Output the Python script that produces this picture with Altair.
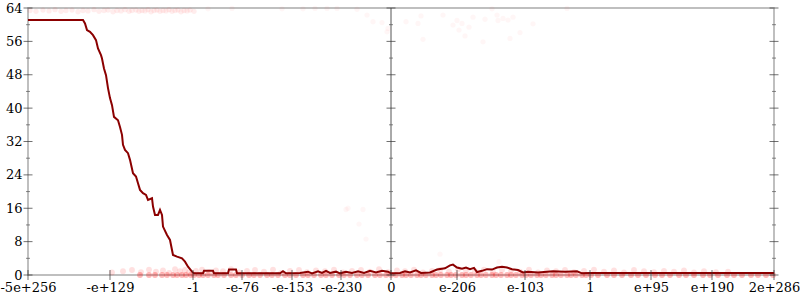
import altair as alt
import pandas as pd

# x axis: positions along the float ordering (0..746) and their labels
tick_vals = [0, 82, 165, 214, 264, 313, 363, 429, 497, 562, 623, 684, 746]
tick_labels = ["-5e+256", "-e+129", "-1", "-e-76", "-e-153", "-e-230", "0",
               "e-206", "e-103", "1", "e+95", "e+190", "2e+286"]
y_major = [0, 8, 16, 24, 32, 40, 48, 56, 64]
y_minor = [4, 12, 20, 28, 36, 44, 52, 60]

# dark red error line
line_x = [0, 55, 57, 59, 62, 65, 68, 70, 73, 74, 76, 78, 80, 82, 84, 86, 90, 92, 94, 95,
          97, 100, 102, 105, 108, 110, 112, 115, 118, 120, 124, 125, 127, 130, 132, 134, 135, 139, 142, 145,
          149, 154, 157, 160, 164, 166, 175, 176, 185, 186, 200, 201, 208, 209, 252, 255, 258, 272, 280, 284,
          290, 294, 298, 302, 308, 312, 318, 324, 330, 336, 342, 348, 354, 360, 363, 372, 377, 382, 388, 393,
          402, 409, 417, 422, 425, 429, 434, 438, 442, 446, 449, 454, 459, 464, 469, 474, 479, 484, 490, 495,
          500, 510, 519, 525, 537, 549, 554, 562, 746]
line_y = [61.1, 61.1, 60.3, 58.7, 58.3, 57.5, 56.3, 54.3, 52.7, 51.9, 49.5, 47.9, 44.8, 42.4, 40.7, 37.9, 37.1, 35.5, 33.6, 31.2,
          30.0, 29.2, 27.6, 24.4, 23.6, 22.0, 20.4, 19.6, 19.2, 18.0, 18.4, 16.4, 14.4, 14.4, 15.6, 14.4, 11.6, 9.6, 8.4, 4.8,
          4.4, 4.0, 3.2, 2.0, 0.8, 0.4, 0.4, 1.0, 1.0, 0.4, 0.4, 1.3, 1.3, 0.4, 0.4, 0.9, 0.4, 0.5, 0.8, 0.4,
          0.9, 0.5, 1.0, 0.5, 0.8, 0.4, 0.8, 0.5, 0.9, 0.5, 1.0, 0.6, 1.0, 0.8, 0.4, 0.5, 0.9, 0.6, 1.1, 0.5,
          0.6, 1.3, 1.6, 2.3, 2.5, 1.8, 1.5, 1.8, 1.4, 1.7, 0.7, 1.0, 1.4, 1.3, 1.8, 2.0, 1.8, 1.4, 1.2, 0.6,
          0.8, 0.6, 0.8, 0.9, 0.8, 0.9, 0.4, 0.5, 0.5]

# faint sample points near the top
top_x = [2, 8, 15, 21, 27, 33, 38, 44, 50, 55, 60, 66, 71, 76, 80, 85, 89, 93, 97, 101,
         104, 108, 111, 114, 117, 120, 123, 126, 129, 132, 135, 138, 141, 144, 147, 150, 153, 156, 159, 162, 166]
top_y = [63.4, 63.2, 63.5, 63.3, 63.6, 63.2, 63.4, 63.5, 63.1, 63.4, 63.3, 63.6, 63.2, 63.4, 63.5, 63.1, 63.4, 63.3, 63.6, 63.2,
         63.4, 63.5, 63.2, 63.4, 63.3, 63.6, 63.1, 63.4, 63.5, 63.2, 63.4, 63.3, 63.6, 63.2, 63.4, 63.5, 63.1, 63.4, 63.3, 63.5, 63.2]

# stray sample points
stray_x = [180, 204, 254, 275, 287, 299, 309, 329, 339, 345, 354, 359, 360, 378, 390, 393, 395, 415, 425, 429,
           431, 434, 437, 441, 445, 455, 457, 464, 469, 470, 475, 485, 480, 492, 505, 482, 539,
           320, 318, 331, 338, 335, 412, 471]
stray_y = [63.8, 63.9, 63.8, 63.8, 63.9, 63.9, 63.9, 63.7, 62.3, 60.7, 60.5, 58.3, 59.1, 60.7, 60.3, 62.1, 56.5, 62.3, 59.9, 61.0,
           58.7, 60.3, 57.3, 59.4, 61.8, 55.9, 61.3, 63.8, 62.3, 61.0, 61.5, 61.8, 61.1, 58.1, 60.2, 56.7, 63.9,
           16.0, 15.7, 12.2, 8.6, 15.7, 5.0, 3.2]

# sample points exactly at zero error
zero_x = [112, 121, 127, 134, 139, 145, 149, 154, 158, 163, 166, 171, 175, 180, 186, 190, 196, 203, 208, 214,
          221, 226, 232, 239, 244, 250, 257, 262, 268, 275, 280, 286, 293, 298, 304, 311, 316, 322, 329, 334,
          340, 347, 352, 358, 363, 368, 374, 378, 383, 389, 393, 398, 404, 408, 413, 419, 423, 428, 434, 438,
          443, 449, 453, 458, 464, 468, 473, 479, 483, 488, 494, 498, 503, 509, 513, 518, 524, 528, 533, 539,
          543, 548, 554, 558, 563, 570, 579, 586, 594, 603, 610, 618, 627, 634, 642, 651, 658, 666, 675, 682,
          690, 699, 706, 714, 723, 730, 738, 745]

# sample points with small error
band_x = [84, 95, 104, 113, 121, 128, 135, 141, 147, 152, 157, 161, 168, 174, 181, 188, 195, 203, 211, 219,
          227, 236, 245, 253, 262, 271, 279, 288, 297, 306, 315, 324, 333, 342, 351, 360, 369, 377, 386, 395,
          404, 412, 421, 430, 438, 447, 456, 465, 474, 483, 492, 501, 510, 519, 528, 537, 546, 556, 566, 576,
          586, 596, 606, 616, 626, 636, 646, 656, 666, 676, 688, 700]
band_y = [0.6, 0.9, 1.2, 0.7, 1.3, 0.8, 1.1, 0.5, 1.4, 0.9, 1.2, 0.6, 1.0, 1.3, 0.7, 1.1, 0.9, 1.4, 0.6, 1.0,
          1.2, 0.8, 1.3, 0.5, 1.0, 1.2, 0.7, 1.1, 0.9, 1.3, 0.6, 1.0, 1.2, 0.8, 1.4, 0.7, 1.1, 0.9, 1.3, 0.6,
          1.0, 1.2, 0.8, 1.4, 1.1, 0.9, 1.3, 0.7, 1.2, 1.0, 0.8, 1.3, 0.6, 1.1, 0.9, 1.2, 0.7, 1.0, 1.3, 0.8,
          1.1, 0.6, 1.2, 0.9, 0.7, 1.0, 0.8, 1.1, 0.6, 0.9, 0.7, 0.8]

label_js = "[" + ",".join("'%s'" % s for s in tick_labels) + "]"
val_js = "[" + ",".join(str(v) for v in tick_vals) + "]"

FONT = "DejaVu Serif"
xs = alt.Scale(domain=[tick_vals[0], tick_vals[-1]], nice=False, zero=False)
ys = alt.Scale(domain=[0, 64], nice=False, zero=False)
xaxis = alt.Axis(values=tick_vals, labelExpr=label_js + "[indexof(" + val_js + ", datum.value)]",
                 ticks=False, tickSize=0, domain=False, grid=False, title=None,
                 labelPadding=6, labelFlush=False, labelOverlap=False,
                 labelFont=FONT, labelFontSize=13, labelColor="#000000")
yaxis = alt.Axis(values=y_major, ticks=False, tickSize=0, domain=False, grid=False, title=None,
                 labelPadding=6, labelFont=FONT, labelFontSize=13, labelColor="#000000")

X = alt.X("x:Q", scale=xs, axis=xaxis)
Y = alt.Y("y:Q", scale=ys, axis=yaxis)

top_df = pd.DataFrame({"x": top_x, "y": top_y})
stray_df = pd.DataFrame({"x": stray_x, "y": stray_y})
zero_df = pd.DataFrame({"x": zero_x, "y": [0.0] * len(zero_x)})
band_df = pd.DataFrame({"x": band_x, "y": band_y})
line_df = pd.DataFrame({"x": line_x, "y": line_y})

axis_positions = [tick_vals[0], tick_vals[6], tick_vals[-1]]
major_rows = [{"x": ax, "y": v} for ax in axis_positions for v in y_major]
minor_rows = [{"x": ax, "y": v} for ax in axis_positions for v in y_minor]
xtick_rows = [{"x": v, "y": 0} for v in tick_vals]

pts = lambda df, op, sz: alt.Chart(df).mark_circle(size=sz, color="#ff0000", opacity=op).encode(x=X, y=Y)

layers = [
    alt.Chart(pd.DataFrame({"x": [tick_vals[6]]})).mark_rule(color="#555555", strokeWidth=1).encode(x=X),
    pts(top_df, 0.07, 28),
    pts(stray_df, 0.035, 28),
    pts(band_df, 0.12, 34),
    pts(zero_df, 0.28, 34),
    alt.Chart(line_df).mark_line(color="#8b0000", strokeWidth=2).encode(x=X, y=Y),
    alt.Chart(pd.DataFrame(major_rows)).mark_tick(orient="horizontal", size=9, thickness=1, color="#333333").encode(x=X, y=Y),
    alt.Chart(pd.DataFrame(minor_rows)).mark_tick(orient="horizontal", size=4, thickness=1, color="#555555").encode(x=X, y=Y),
    alt.Chart(pd.DataFrame(xtick_rows)).mark_tick(orient="vertical", size=10, thickness=1, color="#333333").encode(x=X, y=Y),
]

chart = alt.layer(*layers).properties(
    width=746, height=267,
    autosize=alt.AutoSizeParams(type="none"),
    padding={"left": 28, "top": 8, "right": 26, "bottom": 25},
).configure_view(stroke="#aaaaaa", strokeWidth=1.5).configure_axis(
    labelFont=FONT, labelFontSize=13, labelColor="#000000"
)

chart.save("out.html", embed_options={"renderer": "svg", "actions": False})
